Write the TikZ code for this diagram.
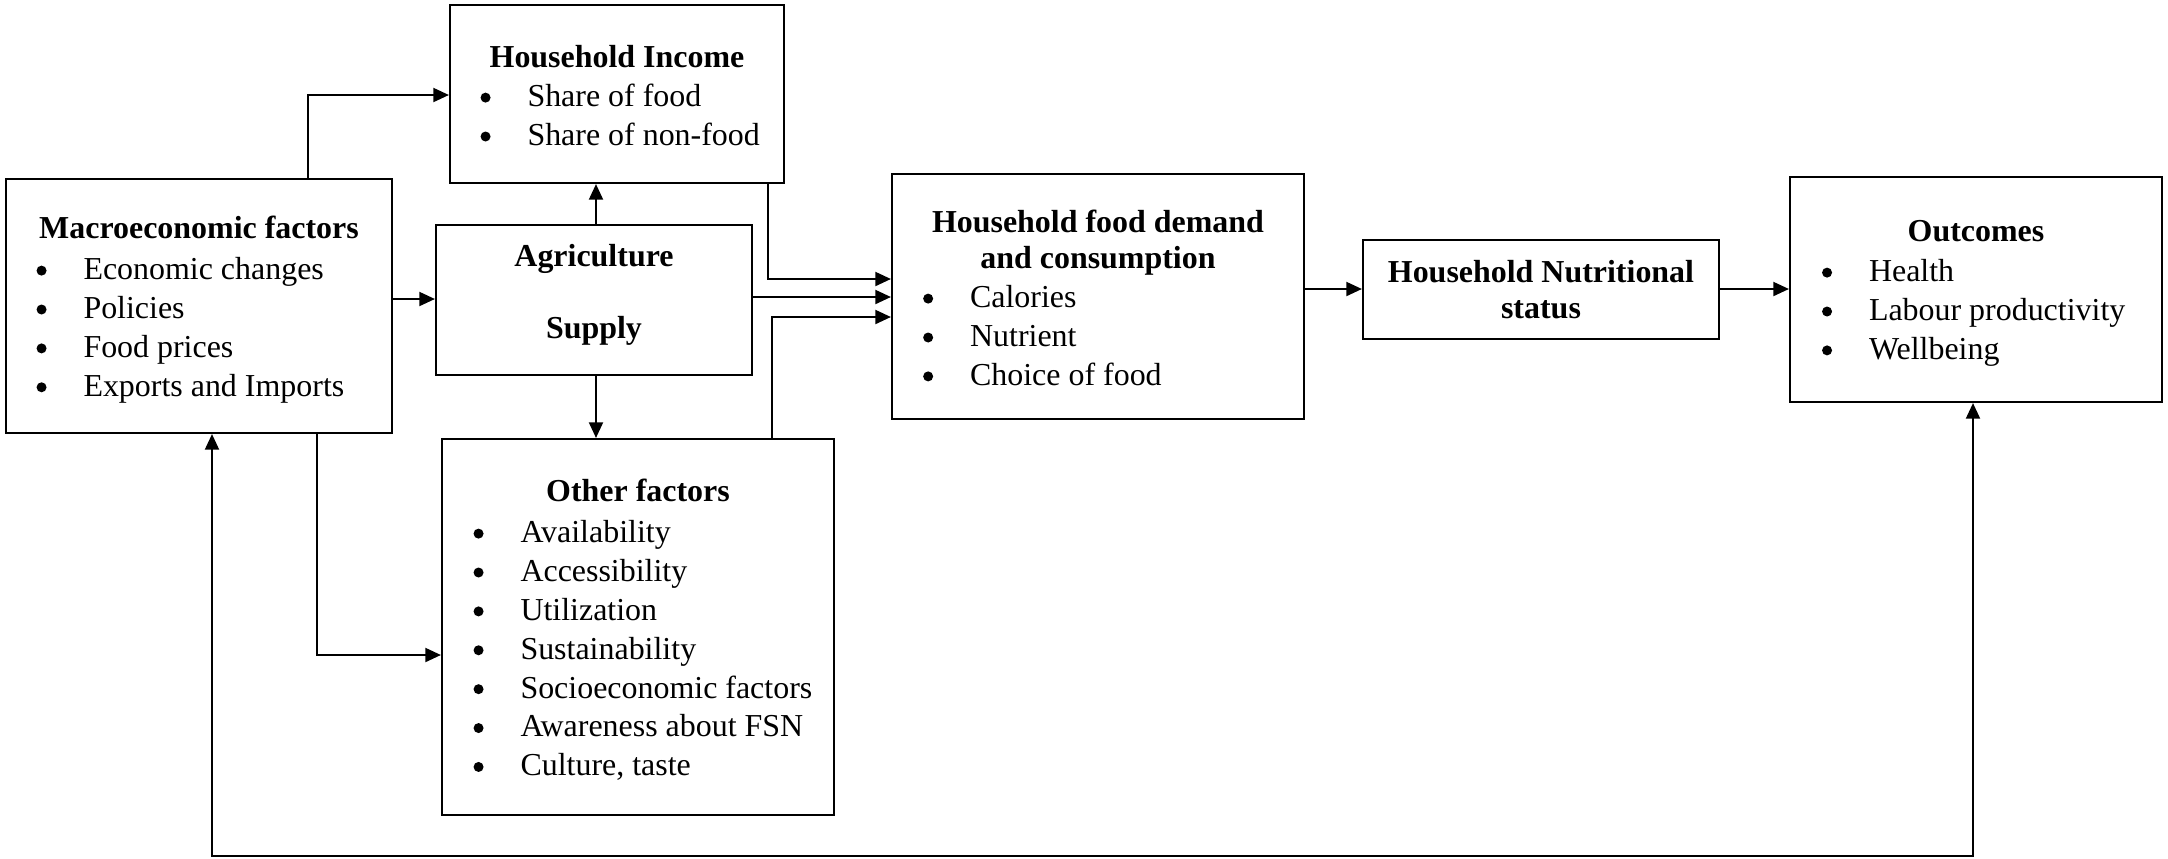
\documentclass[tikz,border=0pt]{standalone}
\usepackage{fontspec}
\setmainfont{Liberation Serif}
\usetikzlibrary{arrows.meta,fit}
\newcommand\blist[1]{\begin{tabular}[t]{@{}l@{}}#1\end{tabular}}
\newcommand\btitle[1]{\begin{tabular}[t]{@{}c@{}}#1\end{tabular}}
\newcommand\bu{\makebox[16.9pt][l]{\tikz[baseline=0pt]\fill (1.8pt,3.2pt) circle[radius=1.8pt];}}
\begin{document}
\begin{tikzpicture}[x=0.36pt,y=-0.36pt,
  box/.style={draw, line width=0.8pt, inner sep=0pt},
  conn/.style={line width=0.5pt, -{Triangle[length=5.6pt,width=5.1pt]}},
  conn2/.style={line width=0.5pt, {Triangle[length=5.6pt,width=5.1pt]}-{Triangle[length=5.6pt,width=5.1pt]}},
  ttl/.style={inner sep=0pt, anchor=base, font=\fontsize{11.5pt}{13pt}\selectfont\bfseries},
  lst/.style={inner sep=0pt, anchor=base west, font=\fontsize{11.5pt}{14pt}\selectfont}
]
\useasboundingbox (0,0) rectangle (2168,858);
% boxes
\node[box, fit={(6,179) (392,433)}] (macro) {};
\node[box, fit={(450,5) (784,183)}] (income) {};
\node[box, fit={(436,225) (752,375)}] (agri) {};
\node[box, fit={(442,439) (834,815)}] (other) {};
\node[box, fit={(892,174) (1304,419)}] (food) {};
\node[box, fit={(1363,240) (1719,339)}] (nutr) {};
\node[box, fit={(1790,177) (2162,402)}] (outc) {};
% texts
\node[ttl] (macroT) at (199,238) {Macroeconomic factors};
\node[lst] (macroL) at (36,279.5) {\blist{\bu Economic changes\\ \bu Policies\\ \bu Food prices\\ \bu Exports and Imports}};
\node[ttl] (incomeT) at (617,67) {Household Income};
\node[lst] (incomeL) at (480,106.5) {\blist{\bu Share of food\\ \bu Share of non-food}};
\node[ttl, font=\fontsize{11.5pt}{13.1pt}\selectfont\bfseries] (agriT) at (594,266) {\btitle{Agriculture\\ \\ Supply}};
\node[ttl] (otherT) at (638,501) {Other factors};
\node[lst] (otherL) at (473,542.5) {\blist{\bu Availability\\ \bu Accessibility\\ \bu Utilization\\ \bu Sustainability\\ \bu Socioeconomic factors\\ \bu Awareness about FSN\\ \bu Culture, taste}};
\node[ttl] (foodT) at (1098,232) {\btitle{Household food demand\\ and consumption}};
\node[lst] (foodL) at (922.6,307.5) {\blist{\bu Calories\\ \bu Nutrient\\ \bu Choice of food}};
\node[ttl] (nutrT) at (1541,282.7) {\btitle{Household Nutritional\\ status}};
\node[ttl] (outcT) at (1976,241.7) {Outcomes};
\node[lst] (outcL) at (1821.5,281.5) {\blist{\bu Health\\ \bu Labour productivity\\ \bu Wellbeing}};
% routing coordinates
\coordinate (c1) at (308,95);
\coordinate (c2) at (0,299);
\coordinate (c3) at (596,0);
\coordinate (c5) at (768,279);
\coordinate (c6) at (0,297);
\coordinate (c7) at (772,317);
\coordinate (c8) at (317,655);
\coordinate (c9) at (0,289);
\coordinate (fa) at (212,856);
\coordinate (fb) at (1973,856);
% connectors
\draw[conn] (c1 |- macro.north) -- (c1) -- (c1 -| income.west);
\draw[conn] (c2 -| macro.east) -- (c2 -| agri.west);
\draw[conn] (c3 |- agri.north) -- (c3 |- income.south);
\draw[conn] (c3 |- agri.south) -- (c3 |- other.north);
\draw[conn] (c5 |- income.south) -- (c5) -- (c5 -| food.west);
\draw[conn] (c6 -| agri.east) -- (c6 -| food.west);
\draw[conn] (c7 |- other.north) -- (c7) -- (c7 -| food.west);
\draw[conn] (c8 |- macro.south) -- (c8) -- (c8 -| other.west);
\draw[conn] (c9 -| food.east) -- (c9 -| nutr.west);
\draw[conn] (c9 -| nutr.east) -- (c9 -| outc.west);
\draw[conn2] (fa |- macro.south) -- (fa) -- (fb) -- (fb |- outc.south);
\end{tikzpicture}
\end{document}
